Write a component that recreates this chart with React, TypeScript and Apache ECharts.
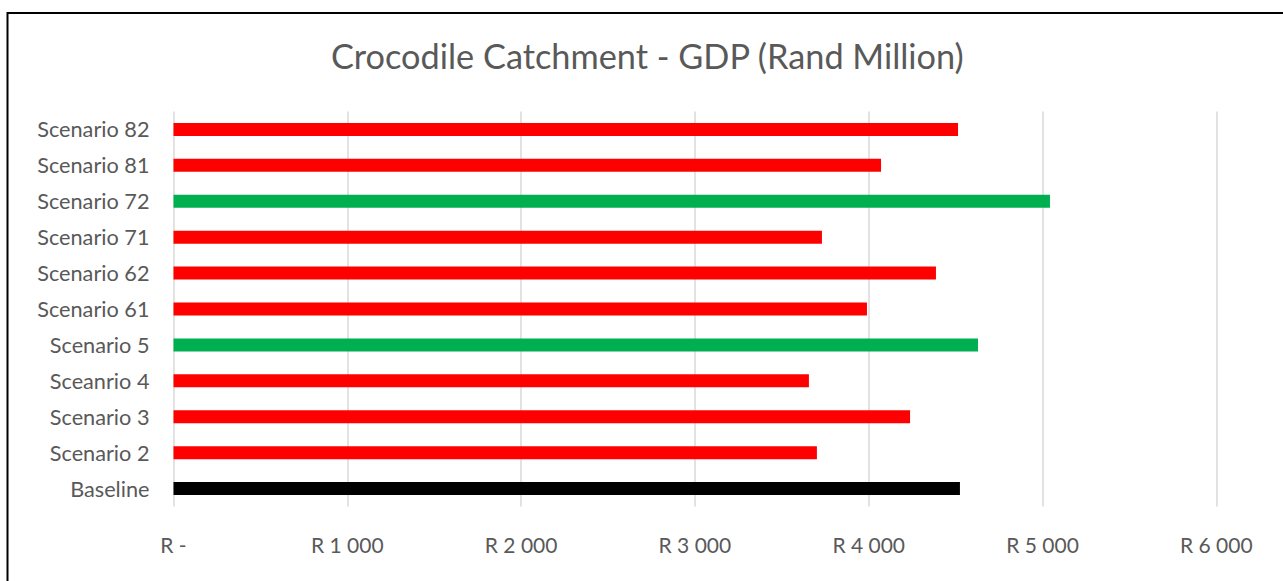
import React, { useEffect, useRef } from "react";
import * as echarts from "echarts";

const title = "Crocodile Catchment - GDP (Rand Million)";
const categories = [
  "Scenario 82",
  "Scenario 81",
  "Scenario 72",
  "Scenario 71",
  "Scenario 62",
  "Scenario 61",
  "Scenario 5",
  "Sceanrio 4",
  "Scenario 3",
  "Scenario 2",
  "Baseline",
];
const gdpValues = [4514, 4071, 5043, 3731, 4387, 3990, 4629, 3656, 4238, 3702, 4525];
const baselineName = "Baseline";
const xTicks = [0, 1000, 2000, 3000, 4000, 5000, 6000];

const COLORS = { baseline: "#000000", better: "#00B050", worse: "#FF0000" };

function formatRand(v: number): string {
  if (v === 0) return "R -";
  const s = Math.round(v).toString().replace(/\B(?=(\d{3})+(?!\d))/g, " ");
  return "R " + s;
}

export default function App() {
  const ref = useRef<HTMLDivElement>(null);
  useEffect(() => {
    document.body.style.margin = "0";
    if (!ref.current) return;
    const chart = echarts.init(ref.current, undefined, { renderer: "svg" });
    const baseIdx = categories.indexOf(baselineName);
    const baseVal = gdpValues[baseIdx];
    const data = gdpValues.map((v, i) => ({
      value: v,
      itemStyle: {
        color: i === baseIdx ? COLORS.baseline : v > baseVal ? COLORS.better : COLORS.worse,
      },
    }));
    const fontFamily = "Lato, 'Open Sans', sans-serif";
    chart.setOption({
      animation: false,
      backgroundColor: "#ffffff",
      textStyle: { fontFamily },
      title: {
        text: title,
        left: 331,
        top: 38,
        padding: 0,
        textStyle: { fontFamily, fontSize: 34.3, fontWeight: "normal", color: "#595959" },
      },
      graphic: [
        {
          type: "rect",
          shape: { x: 7.5, y: 13, width: 1320, height: 620 },
          style: { fill: "none", stroke: "#000000", lineWidth: 2 },
          silent: true,
        },
      ],
      grid: { left: 173.5, top: 111.5, width: 1042.8, height: 395, containLabel: false },
      xAxis: {
        type: "value",
        min: xTicks[0],
        max: xTicks[xTicks.length - 1],
        interval: xTicks[1] - xTicks[0],
        axisLine: { show: false },
        axisTick: { show: false },
        splitLine: { show: true, lineStyle: { color: "#D9D9D9", width: 1.5 } },
        axisLabel: {
          formatter: (v: number) => formatRand(v),
          color: "#595959",
          fontSize: 21,
          margin: 27,
          fontFamily,
        },
      },
      yAxis: {
        type: "category",
        data: categories,
        inverse: true,
        axisLine: { show: false },
        axisTick: { show: false },
        axisLabel: { color: "#595959", fontSize: 21.7, margin: 24, fontFamily },
      },
      series: [
        {
          type: "bar",
          data,
          barWidth: 13,
        },
      ],
    });
    return () => chart.dispose();
  }, []);
  return <div ref={ref} style={{ width: 1283, height: 581 }} />;
}
